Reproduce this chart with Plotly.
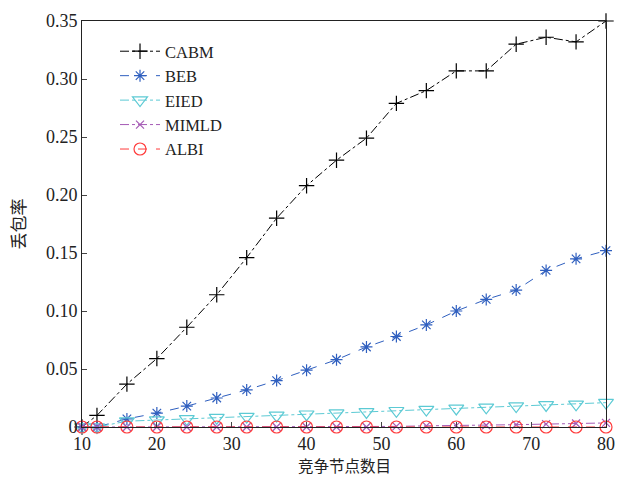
import plotly.graph_objects as go

x_nodes = [10, 12, 16, 20, 24, 28, 32, 36, 40, 44, 48, 52, 56, 60, 64, 68, 72, 76, 80]
cabm = [0.0, 0.010, 0.037, 0.059, 0.086, 0.114, 0.146, 0.180, 0.208, 0.230, 0.249, 0.279, 0.290, 0.307, 0.307, 0.330, 0.336, 0.332, 0.350]
beb = [0.0, 0.0, 0.007, 0.012, 0.018, 0.025, 0.032, 0.040, 0.049, 0.058, 0.069, 0.078, 0.088, 0.100, 0.110, 0.118, 0.135, 0.145, 0.152]
eied = [0.0, 0.0, 0.005, 0.006, 0.007, 0.008, 0.009, 0.010, 0.011, 0.012, 0.013, 0.014, 0.015, 0.016, 0.017, 0.018, 0.019, 0.0195, 0.021]
mimld = [0.0, 0.0, 0.0, 0.0, 0.0, 0.0, 0.0, 0.0, 0.0, 0.0, 0.0, 0.0005, 0.001, 0.0012, 0.0015, 0.002, 0.0025, 0.003, 0.0035]
albi = [0.0] * 19

y_ticks = [0, 0.05, 0.10, 0.15, 0.20, 0.25, 0.30, 0.35]
y_tick_labels = ["0", "0.05", "0.10", "0.15", "0.20", "0.25", "0.30", "0.35"]
x_ticks = [10, 20, 30, 40, 50, 60, 70, 80]
x_title = "竞争节点数目"
y_title = "丢包率"

series = [
    ("CABM", cabm, "#000000", "dashdot", "cross-thin-open", 11),
    ("BEB", beb, "#2f5fbf", "dash", "asterisk-open", 10),
    ("EIED", eied, "#5ccad4", "dashdot", "triangle-down-open", 13),
    ("MIMLD", mimld, "#a55ab5", "dashdot", "x-thin-open", 8),
    ("ALBI", albi, "#ff3b3b", "dash", "circle-open", 12),
]

fig = go.Figure()
for name, vals, color, dash, sym, size in series:
    fig.add_trace(go.Scatter(
        x=x_nodes, y=vals, name=name, mode="lines+markers",
        line=dict(color=color, width=1, dash=dash),
        marker=dict(symbol=sym, size=size, color=color, line=dict(color=color, width=1.2)),
        cliponaxis=False,
    ))

font_serif = "Liberation Serif, Times New Roman, serif"
fig.update_layout(
    width=619, height=477,
    margin=dict(l=82, r=13, t=21, b=50),
    paper_bgcolor="white", plot_bgcolor="white",
    font=dict(family=font_serif, size=18, color="#222"),
    legend=dict(x=0.063, y=0.968, xanchor="left", yanchor="top",
                bgcolor="rgba(0,0,0,0)", font=dict(size=16.5, family=font_serif),
                tracegroupgap=0, itemwidth=40),
    showlegend=True,
)
fig.add_annotation(
    text=x_title, xref="paper", yref="paper", x=0.5, y=0,
    xanchor="center", yanchor="top", yshift=-26, showarrow=False, borderpad=0,
    font=dict(family="Noto Sans CJK SC", size=15.5, color="#222"),
)
fig.update_xaxes(
    range=[10, 80], tickvals=x_ticks, ticks="inside", ticklen=5,
    showline=True, linecolor="#222", linewidth=1, mirror=True,
    showgrid=False, zeroline=False, automargin=False,
    tickfont=dict(size=18),
)
fig.update_yaxes(
    range=[0, 0.35], tickvals=y_ticks, ticktext=y_tick_labels, ticks="inside", ticklen=5,
    showline=True, linecolor="#222", linewidth=1, mirror=True,
    showgrid=False, zeroline=False, automargin=False,
    title=dict(text=y_title, font=dict(family="Noto Sans CJK SC", size=17)),
    tickfont=dict(size=18),
)
fig.write_html("out.html")
